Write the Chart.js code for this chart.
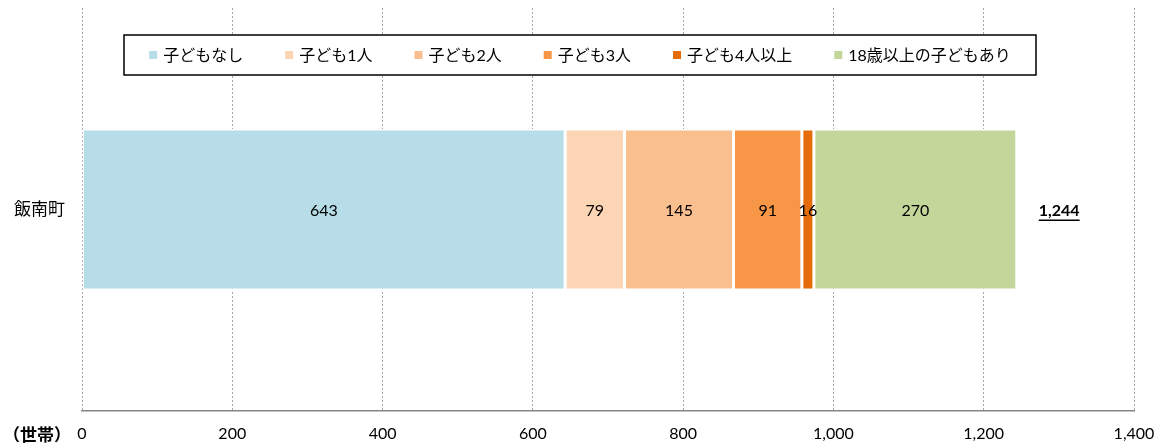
<!DOCTYPE html>
<html>
<head>
<meta charset="utf-8">
<script src="https://cdn.jsdelivr.net/npm/chart.js@4"></script>
<style>
  html, body { margin: 0; padding: 0; background: #fff; }
  #wrap { width: 1168px; height: 448px; }
</style>
</head>
<body>
<div id="wrap"><canvas id="chart" width="1168" height="448"></canvas></div>
<script>
const FONT = "Lato, 'Noto Sans CJK JP', sans-serif";

// data
const categories = ['飯南町'];
const seriesNames = ['子どもなし', '子ども1人', '子ども2人', '子ども3人', '子ども4人以上', '18歳以上の子どもあり'];
const noChild = [643];
const oneChild = [79];
const twoChild = [145];
const threeChild = [91];
const fourPlus = [16];
const adultChild = [270];
const xTicks = [0, 200, 400, 600, 800, 1000, 1200, 1400];
const unitLabel = '（世帯）';

const colors = ['#B7DEE8', '#FCD5B4', '#FABF8F', '#F79646', '#E46C0A', '#C4D79B'];
const seriesValues = [noChild, oneChild, twoChild, threeChild, fourPlus, adultChild];

const datasets = seriesValues.map((vals, i) => ({
    label: seriesNames[i],
    data: vals,
    backgroundColor: colors[i],
    borderColor: '#ffffff',
    borderWidth: 1.5,
    borderSkipped: false,
    barPercentage: 0.4,
    categoryPercentage: 1.0
}));

// value labels inside bars + bold underlined total
const labelPlugin = {
    id: 'labels',
    afterDatasetsDraw(chart) {
        const ctx = chart.ctx;
        ctx.save();
        ctx.font = '16px ' + FONT;
        ctx.fillStyle = '#000';
        ctx.textAlign = 'center';
        ctx.textBaseline = 'middle';
        let endX = 0, midY = 0;
        chart.data.datasets.forEach((ds, i) => {
            const el = chart.getDatasetMeta(i).data[0];
            ctx.fillText(ds.data[0], (el.x + el.base) / 2, el.y + 1);
            endX = Math.max(endX, el.x);
            midY = el.y;
        });
        const total = chart.data.datasets.reduce((s, ds) => s + ds.data[0], 0);
        const txt = total.toLocaleString('en-US');
        ctx.font = 'bold 16px ' + FONT;
        ctx.textAlign = 'left';
        const tx = endX + 22;
        ctx.fillText(txt, tx, midY + 1);
        const w = ctx.measureText(txt).width;
        ctx.fillRect(tx, midY + 10, w, 1.5);
        ctx.restore();
    }
};

// boxed legend drawn over the plot area
const legendPlugin = {
    id: 'boxLegend',
    afterDraw(chart) {
        const ctx = chart.ctx;
        const box = { x: 124, y: 35, w: 912, h: 40 };
        ctx.save();
        ctx.fillStyle = '#fff';
        ctx.fillRect(box.x, box.y, box.w, box.h);
        ctx.strokeStyle = '#000';
        ctx.lineWidth = 1.5;
        ctx.strokeRect(box.x, box.y, box.w, box.h);
        ctx.font = '16px ' + FONT;
        ctx.textBaseline = 'middle';
        const sq = 8, gapIn = 6, gapOut = 42;
        const items = chart.data.datasets.map(ds => ({ t: ds.label, c: ds.backgroundColor, w: ctx.measureText(ds.label).width }));
        const total = items.reduce((s, it) => s + sq + gapIn + it.w, 0) + gapOut * (items.length - 1);
        let x = box.x + (box.w - total) / 2;
        const cy = box.y + box.h / 2;
        items.forEach(it => {
            ctx.fillStyle = it.c;
            ctx.fillRect(x, cy - sq / 2, sq, sq);
            ctx.fillStyle = '#000';
            ctx.textAlign = 'left';
            ctx.fillText(it.t, x + sq + gapIn, cy + 1);
            x += sq + gapIn + it.w + gapOut;
        });
        // unit label next to axis
        ctx.font = 'bold 17px ' + FONT;
        ctx.fillText(unitLabel, 3, 436);
        ctx.restore();
    }
};

new Chart(document.getElementById('chart'), {
    type: 'bar',
    data: { labels: categories, datasets: datasets },
    options: {
        indexAxis: 'y',
        responsive: false,
        animation: false,
        layout: { padding: { top: 8, right: 34, left: 0, bottom: 0 } },
        plugins: { legend: { display: false }, tooltip: { enabled: false } },
        scales: {
            x: {
                stacked: true,
                min: 0,
                max: 1400,
                afterBuildTicks: s => { s.ticks = xTicks.map(v => ({ value: v })); },
                ticks: {
                    color: '#000',
                    font: { family: FONT, size: 16 },
                    padding: 13,
                    maxRotation: 0,
                    callback: v => v.toLocaleString('en-US')
                },
                grid: { color: '#a6a6a6', lineWidth: 1, drawTicks: false },
                border: { display: true, color: '#868686', width: 1.5, dash: [2, 2] },
                afterFit: s => { s.height = 37; }
            },
            y: {
                stacked: true,
                ticks: { color: '#000', font: { family: FONT, size: 17 }, padding: 9 },
                grid: { display: false },
                border: { display: false },
                afterFit: s => { s.width = 82; s.paddingTop = 0; s.paddingBottom = 0; }
            }
        }
    },
    plugins: [labelPlugin, legendPlugin]
});
</script>
</body>
</html>
